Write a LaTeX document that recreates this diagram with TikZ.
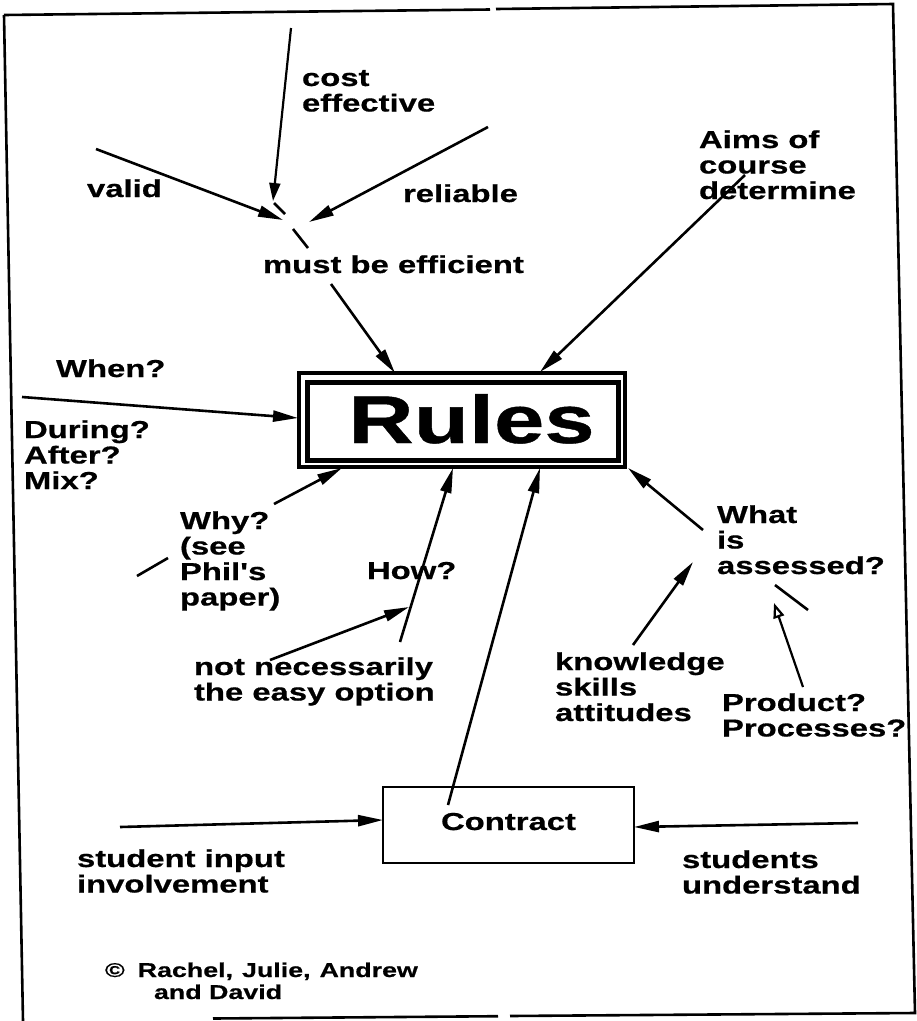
\documentclass[tikz,border=0pt]{standalone}
\usepackage{fontspec}
\newfontfamily\labelfont{Liberation Sans}[FakeStretch=1.34, BoldFeatures={FakeBold=0.6}]
\usetikzlibrary{arrows.meta,calc}
% left-aligned block of lines whose baseline is the first line
\newcommand\mlines[1]{\begin{tabular}[t]{@{}l@{}}#1\end{tabular}}

\begin{document}
\begin{tikzpicture}[x=1pt,y=-1pt,
  lbl/.style={font=\labelfont\bfseries\fontsize{24.5}{25.5}\selectfont,
              inner sep=0pt, outer sep=0pt, anchor=base west},
  small/.style={lbl, font=\labelfont\bfseries\fontsize{20}{22}\selectfont},
  conn/.style={line width=2.6pt, -{Triangle[length=25pt,width=11pt]}},
  thinconn/.style={line width=2.2pt, -{Triangle[length=18pt,width=11pt]}},
  openconn/.style={line width=2.2pt, -{Triangle[open,length=15pt,width=11pt]}},
  plain/.style={line width=2.6pt},
  frame/.style={line width=2.6pt},
  box/.style={draw, inner sep=0pt, outer sep=0pt}]

\useasboundingbox (0,0) rectangle (917,1021);

% outer frame
\draw[frame] (4,15) -- (490,9.5);
\draw[frame] (496,9) -- (893,4) -- (915,1013) -- (510,1016);
\draw[frame] (498,1016.2) -- (213,1018.5);
\draw[frame] (4,15) -- (23,1021);

% central boxes
\node[box, line width=5pt, minimum width=311pt, minimum height=78pt] (rules) at (462.5,421) {};
\draw[line width=3.2pt] ($(rules.north west)+(-8,-9)$) rectangle ($(rules.south east)+(7,7)$);
\node[font=\labelfont\bfseries\fontsize{67.5}{70}\selectfont, inner sep=0pt, anchor=base]
  (rulesword) at (471.5,443) {Rules};

\node[box, line width=2.2pt, minimum width=251pt, minimum height=76pt,
      font=\labelfont\bfseries\fontsize{24.5}{25.5}\selectfont,
      text height=18pt, text depth=8pt] (contract) at (508.5,825) {Contract};

% labels
\node[lbl] (cost) at (302,86) {\mlines{cost\\effective}};
\node[lbl] (valid) at (87,197) {valid};
\node[lbl] (reliable) at (403,202) {reliable};
\node[lbl] (aims) at (699,148) {\mlines{Aims of\\course\\determine}};
\node[lbl] (efficient) at (263,273) {must be efficient};
\node[lbl] (when) at (56,377) {When?};
\node[lbl] (during) at (24,438) {\mlines{During?\\After?\\Mix?}};
\node[lbl] (why) at (180,529) {\mlines{Why?\\(see\\Phil's\\paper)}};
\node[lbl] (how) at (367,579) {How?};
\node[lbl] (easy) at (194,675) {\mlines{not necessarily\\the easy option}};
\node[lbl] (what) at (717,523) {\mlines{What\\is\\assessed?}};
\node[lbl] (knowledge) at (555,670) {\mlines{knowledge\\skills\\attitudes}};
\node[lbl] (product) at (722,711) {\mlines{Product?\\Processes?}};
\node[lbl] (input) at (77,867) {\mlines{student input\\involvement}};
\node[lbl] (understand) at (682,868) {\mlines{students\\understand}};
\node[small] (credit) at (105,977)
  {\mlines{\spaceskip=9pt ©\hspace{4pt} Rachel, Julie, Andrew\\\hspace{49pt}and David}};

% connector end points
\coordinate (costtail) at (291,28);   \coordinate (costtip) at (273,201);
\coordinate (validtail) at (96,149);  \coordinate (validtip) at (283,220);
\coordinate (reltail) at (488,127);   \coordinate (reltip) at (309,222);
\coordinate (j1) at (274,203); \coordinate (j2) at (285,214);
\coordinate (j3) at (293,229); \coordinate (j4) at (308,248);
\coordinate (efftail) at (331,284);   \coordinate (efftip) at (395,373);
\coordinate (aimstail) at (745,175);  \coordinate (aimstip) at (540,372);
\coordinate (whentail) at (22,397);   \coordinate (whentip) at (298,418);
\coordinate (whytail) at (274,504);   \coordinate (whytip) at (342,468);
\coordinate (s1a) at (137,576);       \coordinate (s1b) at (168,558);
\coordinate (howtail) at (400,642);   \coordinate (howtip) at (453,468);
\coordinate (easytail) at (270,660);  \coordinate (easytip) at (409,607);
\coordinate (contail) at (448,805);   \coordinate (contip) at (540,468);
\coordinate (whattail) at (703,530);  \coordinate (whattip) at (628,468);
\coordinate (knowtail) at (633,645);  \coordinate (knowtip) at (693,562);
\coordinate (s2a) at (775,585);       \coordinate (s2b) at (808,610);
\coordinate (prodtail) at (803,687);  \coordinate (prodtip) at (774,603);
\coordinate (inputtail) at (120,827); \coordinate (inputtip) at (383,820);
\coordinate (undtail) at (858,823);   \coordinate (undtip) at (634,827);

% connectors
\draw[thinconn] (costtail) -- (costtip);
\draw[conn] (validtail) -- (validtip);
\draw[conn] (reltail) -- (reltip);
\draw[plain] (j1) -- (j2);
\draw[plain] (j3) -- (j4);
\draw[conn] (efftail) -- (efftip);
\draw[conn] (aimstail) -- (aimstip);
\draw[conn] (whentail) -- (whentip);
\draw[conn] (whytail) -- (whytip);
\draw[plain] (s1a) -- (s1b);
\draw[conn] (howtail) -- (howtip);
\draw[conn] (easytail) -- (easytip);
\draw[conn] (contail) -- (contip);
\draw[conn] (whattail) -- (whattip);
\draw[conn] (knowtail) -- (knowtip);
\draw[plain] (s2a) -- (s2b);
\draw[openconn] (prodtail) -- (prodtip);
\draw[conn] (inputtail) -- (inputtip);
\draw[conn] (undtail) -- (undtip);

\end{tikzpicture}
\end{document}
